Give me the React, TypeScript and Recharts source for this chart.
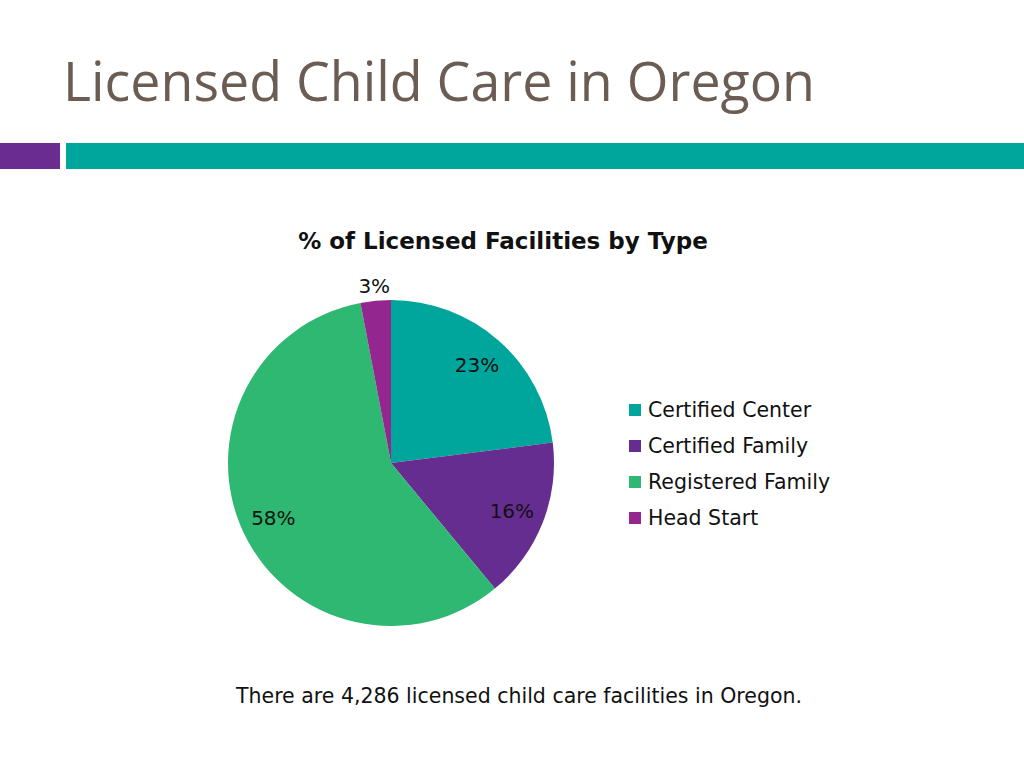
import React from "react";
import { PieChart, Pie, Cell, Legend } from "recharts";

const categories = ["Certified Center", "Certified Family", "Registered Family", "Head Start"];
const percentages = [23, 16, 58, 3];
const colors = ["#00A59B", "#662D91", "#2EB872", "#93278F"];

const data = categories.map((name, i) => ({ name, value: percentages[i] }));

const FONT = "'DejaVu Sans', sans-serif";
const RAD = Math.PI / 180;

const renderLabel = (props: any) => {
  const { cx, cy, midAngle, value } = props;
  const r = value < 5 ? 178 : 130;
  const x = cx + r * Math.cos(-midAngle * RAD);
  const y = cy + r * Math.sin(-midAngle * RAD);
  return (
    <text x={x} y={y} textAnchor="middle" dominantBaseline="central" fill="#111" fontSize={20} fontFamily={FONT}>
      {`${value}%`}
    </text>
  );
};

const renderLegend = (props: any) => {
  const payload = [...(props.payload || [])].sort(
    (a: any, b: any) => categories.indexOf(a.value) - categories.indexOf(b.value)
  );
  return (
    <div style={{ fontFamily: FONT }}>
      {payload.map((p: any, i: number) => (
        <div key={i} style={{ display: "flex", alignItems: "center", height: 36 }}>
          <span style={{ width: 12, height: 12, background: p.color, display: "inline-block", marginRight: 7 }} />
          <span style={{ fontSize: 20.5, color: "#111" }}>{p.value}</span>
        </div>
      ))}
    </div>
  );
};

export default function App() {
  return (
    <div style={{ position: "absolute", left: 0, top: 0, width: 1024, height: 768, background: "#fff", overflow: "hidden" }}>
      <svg width={1024} height={768} style={{ position: "absolute", left: 0, top: 0 }}>
        <text x={63} y={101} fontFamily="'Open Sans', sans-serif" fontSize={54} fill="#6B5D53" textLength={752} lengthAdjust="spacingAndGlyphs">
          Licensed Child Care in Oregon
        </text>
        <rect x={0} y={143} width={60} height={26} fill="#6A2C91" />
        <rect x={66} y={143} width={958} height={26} fill="#00A59B" />
        <text x={503} y={249} textAnchor="middle" fontFamily={FONT} fontWeight="bold" fontSize={23} fill="#111">
          % of Licensed Facilities by Type
        </text>
        <text x={519} y={703} textAnchor="middle" fontFamily={FONT} fontSize={20.5} fill="#111">
          There are 4,286 licensed child care facilities in Oregon.
        </text>
      </svg>
      <div style={{ position: "absolute", left: 0, top: 0 }}>
        <PieChart width={1024} height={768} margin={{ top: 0, right: 0, bottom: 0, left: 0 }}>
          <Pie
            data={data}
            dataKey="value"
            nameKey="name"
            cx={391}
            cy={463}
            outerRadius={163}
            startAngle={90}
            endAngle={-270}
            stroke="none"
            label={renderLabel}
            labelLine={false}
            isAnimationActive={false}
          >
            {data.map((d, i) => (
              <Cell key={d.name} fill={colors[i]} />
            ))}
          </Pie>
          <Legend
            layout="vertical"
            content={renderLegend}
            wrapperStyle={{ position: "absolute", left: 629, top: 392, width: 260 }}
          />
        </PieChart>
      </div>
    </div>
  );
}
